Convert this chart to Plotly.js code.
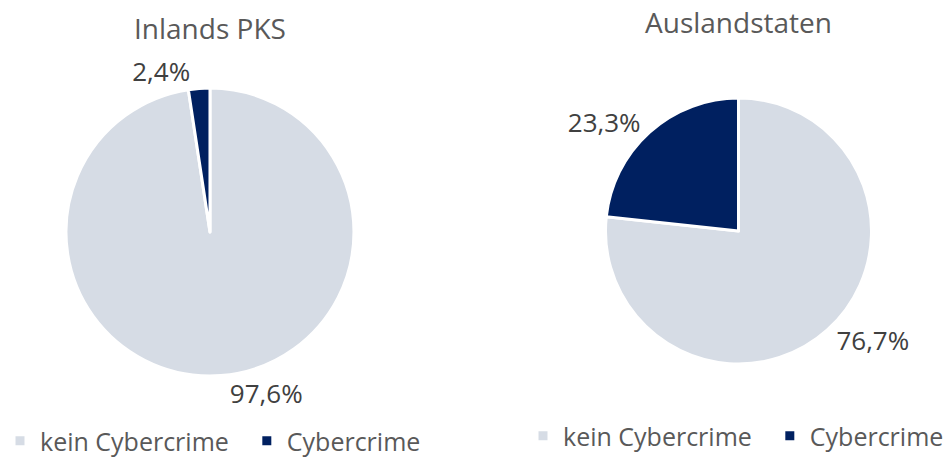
<!DOCTYPE html>
<html><head><meta charset="utf-8">
<script src="https://cdn.plot.ly/plotly-3.0.1.min.js"></script>
<style>html,body{margin:0;padding:0;background:#fff}#chart{width:951px;height:464px}</style>
</head><body><div id="chart"></div>
<script>
const categories = ["kein Cybercrime", "Cybercrime"];
const inlandValues = [97.6, 2.4];
const auslandValues = [76.7, 23.3];
const titles = ["Inlands PKS", "Auslandstaten"];
const colors = ["#d6dce5", "#002060"];

const font = "'Open Sans', 'Noto Sans', sans-serif";
// legend spacing: pad first entry with no-break spaces; second pie gets a zero-width space so its legend is separate
const labels1 = categories.map((c, i) => i === 0 ? c + "\u00A0\u00A0" : c);
const labels2 = labels1.map(c => c + "\u200B");

const traces = [
  {
    type: "pie", labels: labels1, values: inlandValues, sort: false,
    direction: "clockwise", rotation: 0,
    marker: {colors: colors, line: {color: "#ffffff", width: 3}},
    textposition: "outside", texttemplate: "%{percent:.1%}",
    textfont: {family: font, size: 26, color: "#404040"},
    hoverinfo: "label+percent",
    domain: {x: [0.0694, 0.3722], y: [0.1897, 0.8103]},
    legend: "legend"
  },
  {
    type: "pie", labels: labels2, values: auslandValues, sort: false,
    direction: "clockwise", rotation: 0,
    marker: {colors: colors, line: {color: "#ffffff", width: 3}},
    textposition: "outside", texttemplate: "%{percent:.1%}",
    textfont: {family: font, size: 26, color: "#404040"},
    hoverinfo: "label+percent",
    domain: {x: [0.6367, 0.9164], y: [0.2155, 0.7888]},
    legend: "legend2"
  }
];

const layout = {
  width: 951, height: 464,
  margin: {l: 0, r: 0, t: 0, b: 0},
  paper_bgcolor: "#ffffff",
  separators: ",.",
  font: {family: font, color: "#595959"},
  annotations: [
    {text: titles[0], x: 210/951, y: 1 - 28/464, xref: "paper", yref: "paper", showarrow: false,
     font: {family: font, size: 28, color: "#595959"}, xanchor: "center", yanchor: "middle"},
    {text: titles[1], x: 738/951, y: 1 - 22/464, xref: "paper", yref: "paper", showarrow: false,
     font: {family: font, size: 28, color: "#595959"}, xanchor: "center", yanchor: "middle"}
  ],
  legend: {orientation: "h", x: 0, y: 0, xanchor: "left", yanchor: "bottom",
    font: {family: font, size: 25, color: "#595959"}, bgcolor: "rgba(0,0,0,0)"},
  legend2: {orientation: "h", x: 523/951, y: 5/464, xanchor: "left", yanchor: "bottom",
    font: {family: font, size: 25, color: "#595959"}, bgcolor: "rgba(0,0,0,0)"},
  showlegend: true
};

Plotly.newPlot("chart", traces, layout, {displayModeBar: false, staticPlot: true});
</script></body></html>
